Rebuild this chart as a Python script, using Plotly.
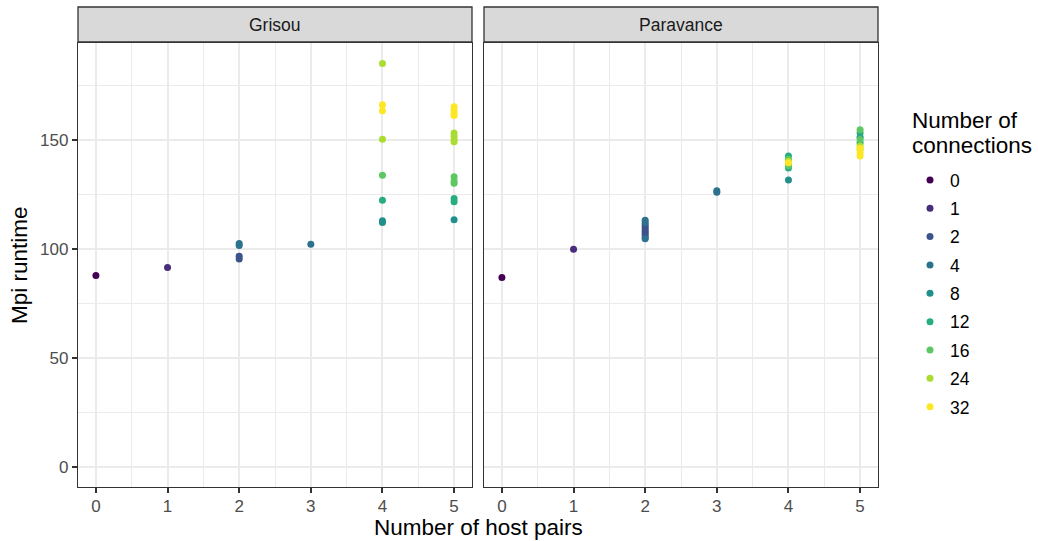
import plotly.graph_objects as go

levels = [0, 1, 2, 4, 8, 12, 16, 24, 32]
colors = ["#440154", "#472D7B", "#3B528B", "#2C728E", "#21908C",
          "#27AD81", "#5DC863", "#AADC32", "#FDE725"]

grisou_pairs = [0, 1, 2, 2, 2, 2, 3,
                4, 4, 4, 4, 4, 4, 4, 4,
                5, 5, 5, 5, 5, 5, 5, 5, 5, 5, 5, 5, 5, 5]
grisou_runtime = [87.7, 91.3, 102.4, 101.4, 96.5, 95.3, 102.0,
                  184.8, 166.0, 163.2, 150.1, 133.6, 122.2, 112.8, 112.0,
                  165.0, 163.5, 162.0, 161.0, 153.0, 151.5, 150.0, 149.0,
                  133.0, 131.0, 130.0, 123.0, 121.5, 113.2]
grisou_conn = [0, 1, 4, 4, 2, 2, 4,
               24, 32, 32, 24, 16, 12, 8, 8,
               32, 32, 32, 32, 24, 24, 24, 24,
               16, 16, 16, 12, 12, 8]

paravance_pairs = [0, 1, 2, 2, 2, 2, 2, 2, 2, 2, 2, 2, 3, 3,
                   4, 4, 4, 4, 4, 4, 4,
                   5, 5, 5, 5, 5, 5, 5, 5, 5, 5]
paravance_runtime = [86.8, 99.7, 105.0, 106.0, 107.0, 108.0, 109.0, 110.0, 111.0, 113.0, 112.0, 104.5, 126.5, 125.8,
                     142.5, 141.0, 140.0, 139.4, 138.0, 137.0, 131.5,
                     154.5, 153.0, 151.0, 150.0, 148.5, 147.0, 146.0, 144.0, 142.5, 145.5]
paravance_conn = [0, 1, 2, 2, 2, 2, 2, 2, 2, 4, 4, 4, 4, 4,
                  12, 16, 24, 32, 16, 12, 8,
                  16, 12, 8, 16, 12, 24, 32, 32, 32, 24]

fig = go.Figure()

W, H = 1038, 541
FONT = "Liberation Sans, Arial, sans-serif"

def px_x(p):
    return p / W

def px_y(p):
    return 1 - p / H

for lvl, col in zip(levels, colors):
    gx = [x for x, c in zip(grisou_pairs, grisou_conn) if c == lvl]
    gy = [y for y, c in zip(grisou_runtime, grisou_conn) if c == lvl]
    px_ = [x for x, c in zip(paravance_pairs, paravance_conn) if c == lvl]
    py_ = [y for y, c in zip(paravance_runtime, paravance_conn) if c == lvl]
    fig.add_trace(go.Scatter(x=gx, y=gy, mode="markers", name=str(lvl),
                             legendgroup=str(lvl), showlegend=True,
                             marker=dict(color=col, size=7, line=dict(width=0)),
                             xaxis="x", yaxis="y"))
    fig.add_trace(go.Scatter(x=px_, y=py_, mode="markers", name=str(lvl),
                             legendgroup=str(lvl), showlegend=False,
                             marker=dict(color=col, size=7, line=dict(width=0)),
                             xaxis="x2", yaxis="y2"))

xdom1 = [px_x(78), px_x(472)]
xdom2 = [px_x(484), px_x(878)]
ydom = [px_y(487), px_y(43)]

axis_common = dict(
    showline=True, mirror=True, linecolor="#333333", linewidth=1.3,
    showgrid=True, gridcolor="#EBEBEB", gridwidth=1.5,
    zeroline=False, ticklen=5, tickcolor="#333333", tickwidth=1.5,
    tickfont=dict(family=FONT, size=17, color="#4D4D4D"),
)
minor_x = dict(dtick=0.5, tick0=0.5, showgrid=True, gridcolor="#EBEBEB", gridwidth=0.8, ticks="")
minor_y = dict(dtick=25, tick0=25, showgrid=True, gridcolor="#EBEBEB", gridwidth=0.8, ticks="")

xr = [-0.25, 5.25]
yr = [-9.25, 194.25]

fig.update_layout(
    width=W, height=H,
    margin=dict(l=0, r=0, t=0, b=0),
    plot_bgcolor="white", paper_bgcolor="white",
    font=dict(family=FONT, color="black"),
    xaxis=dict(domain=xdom1, range=xr, tickvals=[0, 1, 2, 3, 4, 5], anchor="y",
               ticks="outside", ticklabelstandoff=-2, minor=minor_x, **axis_common),
    yaxis=dict(domain=ydom, range=yr, tickvals=[0, 50, 100, 150], anchor="x",
               ticks="outside", minor=minor_y, **axis_common),
    xaxis2=dict(domain=xdom2, range=xr, tickvals=[0, 1, 2, 3, 4, 5], anchor="y2",
                ticks="outside", ticklabelstandoff=-2, minor=minor_x, **axis_common),
    yaxis2=dict(domain=ydom, range=yr, tickvals=[0, 50, 100, 150], anchor="x2",
                showticklabels=False, ticks="", minor=minor_y, **axis_common),
    legend=dict(
        x=px_x(910), y=px_y(162), xanchor="left", yanchor="top",
        font=dict(size=17.5, family=FONT, color="black"),
        tracegroupgap=2.6, itemsizing="trace", bgcolor="rgba(0,0,0,0)",
    ),
)

# strips
for (x0, x1), label in [((78, 472), "Grisou"), ((484, 878), "Paravance")]:
    fig.add_shape(type="rect", xref="paper", yref="paper",
                  x0=px_x(x0), x1=px_x(x1), y0=px_y(42), y1=px_y(7),
                  fillcolor="#D9D9D9", line=dict(color="#333333", width=1.3))
    fig.add_annotation(xref="paper", yref="paper", x=px_x((x0 + x1) / 2), y=px_y(24.5),
                       text=label, showarrow=False, xanchor="center", yanchor="middle",
                       font=dict(size=17.5, color="#1A1A1A", family=FONT))

# legend title (two lines placed individually)
for txt, yc in [("Number of", 120), ("connections", 145)]:
    fig.add_annotation(xref="paper", yref="paper", x=px_x(910), y=px_y(yc),
                       text=txt, showarrow=False, align="left",
                       xanchor="left", yanchor="middle",
                       font=dict(size=22.5, color="black", family=FONT))

fig.add_annotation(xref="paper", yref="paper", x=px_x(478), y=0, borderpad=0,
                   text="Number of host pairs", showarrow=False, xanchor="center", yanchor="bottom",
                   font=dict(size=22.5, color="black", family=FONT))
fig.add_annotation(xref="paper", yref="paper", x=px_x(19), y=px_y(265),
                   text="Mpi runtime", showarrow=False, xanchor="center", yanchor="middle",
                   textangle=-90,
                   font=dict(size=22.5, color="black", family=FONT))

fig.write_html("out.html")
